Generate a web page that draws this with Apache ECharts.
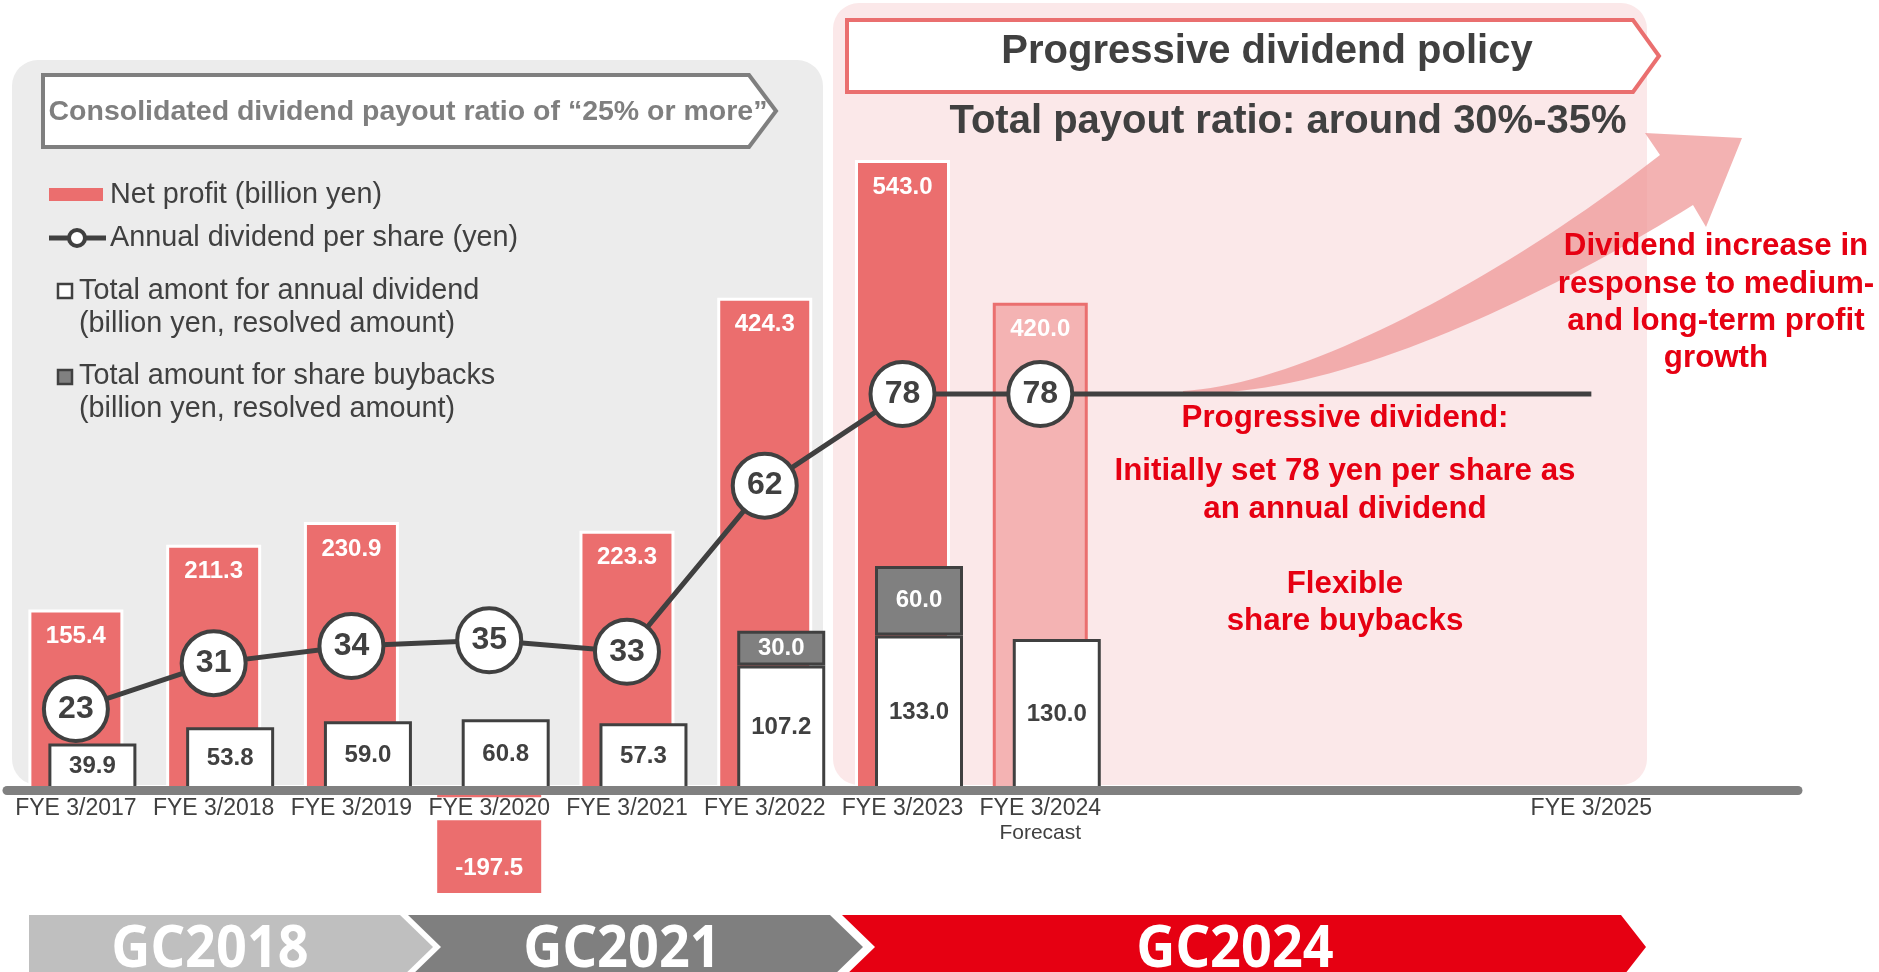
<!DOCTYPE html>
<html><head><meta charset="utf-8">
<script src="https://cdn.jsdelivr.net/npm/echarts@6/dist/echarts.min.js"></script>
<style>html,body{margin:0;padding:0;background:#fff;}#c{width:1879px;height:972px;}</style>
</head><body><div id="c"></div>
<script>
// ---- data ----
const categories = ['FYE 3/2017','FYE 3/2018','FYE 3/2019','FYE 3/2020','FYE 3/2021','FYE 3/2022','FYE 3/2023','FYE 3/2024\nForecast','','','','FYE 3/2025',''];
const netProfit = [155.4, 211.3, 230.9, -197.5, 223.3, 424.3, 543.0, 420.0];
const dividendTotal = [39.9, 53.8, 59.0, 60.8, 57.3, 107.2, 133.0, 130.0];
const buybacks = [null, null, null, null, null, 30.0, 60.0, null];
const dps = [23, 31, 34, 35, 33, 62, 78, 78];
const dpsPolicy = [null, null, null, null, null, null, null, 78, null, null, null, 78, null];
const forecastIndex = 7;
const bannerLabels = ['GC2018', 'GC2021', 'GC2024'];

const FF = "'Liberation Sans', Arial, sans-serif";
const DARK = '#404040';
const RED = '#eb6e6e';
const TRED = '#e60012';

const chart = echarts.init(document.getElementById('c'), null, {renderer: 'canvas'});

function txt(x, y, text, size, color, opts) {
  opts = opts || {};
  return {
    type: 'text', x: x, y: y, z: opts.z || 20,
    scaleX: opts.scaleX || 1,
    style: {
      text: text, fill: color,
      font: (opts.weight || 'normal') + ' ' + size + 'px ' + (opts.family || FF),
      textAlign: opts.align || 'left', align: opts.align || 'left',
      textVerticalAlign: 'middle', verticalAlign: 'middle'
    }
  };
}
function cubic(p0, p1, p2, p3, n) {
  const pts = [];
  for (let i = 0; i <= n; i++) {
    const t = i / n, u = 1 - t;
    pts.push([
      u*u*u*p0[0] + 3*u*u*t*p1[0] + 3*u*t*t*p2[0] + t*t*t*p3[0],
      u*u*u*p0[1] + 3*u*u*t*p1[1] + 3*u*t*t*p2[1] + t*t*t*p3[1]
    ]);
  }
  return pts;
}
const arrowUpper = cubic([1183,391],[1300,385],[1500,280],[1660,155],40);
const arrowLower = cubic([1183,393],[1330,400],[1540,300],[1693,205],40).reverse();
const arrowPts = arrowUpper.concat([[1645,133],[1742,138],[1706,227]], arrowLower);

const graphics = [
  {type:'rect', z:-10, shape:{x:12, y:60, width:811, height:725, r:26}, style:{fill:'#ececec'}},
  {type:'rect', z:-10, shape:{x:833, y:3, width:814, height:782, r:26}, style:{fill:'#fbe8e9'}},
  {type:'polygon', z:1, shape:{points:[[43,75],[749,75],[776,111],[749,147],[43,147]]}, style:{fill:'#fff', stroke:'#7f7f7f', lineWidth:4}},
  txt(408, 112, 'Consolidated dividend payout ratio of \u201c25% or more\u201d', 28.5, '#7f7f7f', {align:'center', weight:'bold'}),
  {type:'polygon', z:1, shape:{points:[[847,20],[1633,20],[1659,56],[1633,92],[847,92]]}, style:{fill:'#fff', stroke:'#ea6f6f', lineWidth:4}},
  txt(1267, 52, 'Progressive dividend policy', 40, DARK, {align:'center', weight:'bold'}),
  txt(1288, 122, 'Total payout ratio: around 30%-35%', 40, DARK, {align:'center', weight:'bold'}),
  // legend
  {type:'rect', z:5, shape:{x:49, y:188, width:54, height:13}, style:{fill:RED}},
  txt(110, 195, 'Net profit (billion yen)', 28.8, DARK),
  {type:'line', z:5, shape:{x1:49, y1:238, x2:106, y2:238}, style:{stroke:DARK, lineWidth:5}},
  {type:'circle', z:6, shape:{cx:77, cy:238, r:8}, style:{fill:'#fff', stroke:DARK, lineWidth:4}},
  txt(110, 238, 'Annual dividend per share (yen)', 28.8, DARK),
  {type:'rect', z:5, shape:{x:58, y:284, width:14, height:14}, style:{fill:'#fff', stroke:DARK, lineWidth:2.5}},
  txt(79, 291, 'Total amont for annual dividend', 28.8, DARK),
  txt(79, 324, '(billion yen, resolved amount)', 28.8, DARK),
  {type:'rect', z:5, shape:{x:58, y:370, width:14, height:14}, style:{fill:'#808080', stroke:DARK, lineWidth:2.5}},
  txt(79, 376, 'Total amount for share buybacks', 28.8, DARK),
  txt(79, 409, '(billion yen, resolved amount)', 28.8, DARK),
  // curved arrow
  {type:'polygon', z:1, shape:{points:arrowPts}, style:{fill:'rgba(239,148,148,0.72)'}},
  // red annotations
  txt(1716, 246, 'Dividend increase in', 31.3, TRED, {align:'center', weight:'bold'}),
  txt(1716, 284, 'response to medium-', 31.3, TRED, {align:'center', weight:'bold'}),
  txt(1716, 321, 'and long-term profit', 31.3, TRED, {align:'center', weight:'bold'}),
  txt(1716, 358, 'growth', 31.3, TRED, {align:'center', weight:'bold'}),
  txt(1345, 418, 'Progressive dividend:', 31.3, TRED, {align:'center', weight:'bold'}),
  txt(1345, 471, 'Initially set 78 yen per share as', 31.3, TRED, {align:'center', weight:'bold'}),
  txt(1345, 509, 'an annual dividend', 31.3, TRED, {align:'center', weight:'bold'}),
  txt(1345, 584, 'Flexible', 31.3, TRED, {align:'center', weight:'bold'}),
  txt(1345, 621, 'share buybacks', 31.3, TRED, {align:'center', weight:'bold'}),
  // bottom banners
  {type:'polygon', z:1, shape:{points:[[29,915],[400,915],[433,947],[400,979],[29,979]]}, style:{fill:'#bfbfbf'}},
  {type:'polygon', z:1, shape:{points:[[408,915],[830,915],[863,947],[830,979],[408,979],[441,947]]}, style:{fill:'#7f7f7f'}},
  {type:'polygon', z:1, shape:{points:[[842,915],[1621,915],[1646,947],[1621,979],[842,979],[875,947]]}, style:{fill:TRED}},
  txt(210, 950, bannerLabels[0], 60, '#fff', {align:'center', weight:'bold', family:"'Noto Sans', sans-serif", scaleX:0.9}),
  txt(622, 950, bannerLabels[1], 60, '#fff', {align:'center', weight:'bold', family:"'Noto Sans', sans-serif", scaleX:0.9}),
  txt(1235, 950, bannerLabels[2], 60, '#fff', {align:'center', weight:'bold', family:"'Noto Sans', sans-serif", scaleX:0.9})
];

const yMain = {min: -89.0, max: 551.6};
const yDps = {min: -9.15, max: 120.63};

const option = {
  animation: false,
  backgroundColor: '#fff',
  grid: [
    {left: 7, width: 1791, top: 150, bottom: 79},
    {left: 23.5, width: 1791, top: 150, bottom: 79}
  ],
  xAxis: [
    {type:'category', gridIndex:0, data:categories, z:10, position:'bottom', offset:-103.2,
     axisLine:{show:true, onZero:false, lineStyle:{color:'#808080', width:9}},
     axisTick:{show:false}, splitLine:{show:false},
     axisLabel:{margin:6, interval:0,
       formatter: function(v){
         if (!v) return '';
         const parts = v.split('\n');
         if (v.indexOf('2020') >= 0) return '{w|' + parts[0] + '}';
         let s = '{a|' + parts[0] + '}';
         if (parts[1]) s += '\n{f|' + parts[1] + '}';
         return s;
       },
       rich:{
         a:{fontSize:23, fontFamily:FF, color:DARK, lineHeight:26},
         w:{fontSize:23, fontFamily:FF, color:DARK, lineHeight:26, backgroundColor:'#fff'},
         f:{fontSize:21, fontFamily:FF, color:DARK, lineHeight:22}
       }}},
    {type:'category', gridIndex:1, data:categories, show:false},
    {type:'category', gridIndex:0, data:categories, show:false}
  ],
  yAxis: [
    {type:'value', gridIndex:0, show:false, min:yMain.min, max:yMain.max, splitLine:{show:false}},
    {type:'value', gridIndex:0, show:false, min:yDps.min, max:yDps.max, splitLine:{show:false}},
    {type:'value', gridIndex:1, show:false, min:yMain.min, max:yMain.max, splitLine:{show:false}}
  ],
  graphic: {elements: graphics},
  series: [
    {
      name:'Net profit (billion yen)', type:'bar', xAxisIndex:0, yAxisIndex:0, barWidth:95, z:2,
      data: netProfit.map((v, i) => v >= 0 ? (i === forecastIndex ? {value:v, itemStyle:{color:'#f4b3b3', borderColor:'#ea6f6f'}} : v) : '-'),
      itemStyle:{color:RED, borderColor:'#fff', borderWidth:3},
      label:{show:true, position:'insideTop', distance:15, color:'#fff', fontWeight:'bold', fontSize:24, fontFamily:FF,
             formatter: p => Number(p.value).toFixed(1)}
    },
    {
      name:'Net profit negative', type:'bar', xAxisIndex:2, yAxisIndex:0, barWidth:104, z:2, clip:true,
      data: netProfit.map(v => v < 0 ? v : '-'),
      itemStyle:{color:RED},
      label:{show:true, position:[52, 79], align:'center', verticalAlign:'middle', color:'#fff', fontWeight:'bold', fontSize:24, fontFamily:FF,
             formatter: p => Number(p.value).toFixed(1)}
    },
    {
      name:'Total amont for annual dividend', type:'bar', xAxisIndex:1, yAxisIndex:2, stack:'ret', barWidth:88, z:3,
      data: dividendTotal,
      itemStyle:{color:'#fff', borderColor:DARK, borderWidth:3},
      label:{show:true, position:'inside', color:DARK, fontWeight:'bold', fontSize:24, fontFamily:FF,
             formatter: p => Number(p.value).toFixed(1)}
    },
    {
      name:'Total amount for share buybacks', type:'bar', xAxisIndex:1, yAxisIndex:2, stack:'ret', barWidth:88, z:3,
      data: buybacks.map(v => v == null ? '-' : v),
      itemStyle:{color:'#808080', borderColor:DARK, borderWidth:3},
      label:{show:true, position:'inside', color:'#fff', fontWeight:'bold', fontSize:24, fontFamily:FF,
             formatter: p => Number(p.value).toFixed(1)}
    },
    {
      name:'Policy', type:'line', xAxisIndex:0, yAxisIndex:1, z:4, connectNulls:true,
      symbol:'none', showSymbol:false, data: dpsPolicy,
      lineStyle:{color:DARK, width:5}
    },
    {
      name:'Annual dividend per share (yen)', type:'line', xAxisIndex:0, yAxisIndex:1, z:5,
      data: dps, symbol:'circle', symbolSize:64,
      lineStyle:{color:DARK, width:5},
      itemStyle:{color:'#fff', borderColor:DARK, borderWidth:4},
      label:{show:true, position:'inside', color:DARK, fontWeight:'bold', fontSize:32, fontFamily:FF}
    }
  ]
};
chart.setOption(option);
</script></body></html>
